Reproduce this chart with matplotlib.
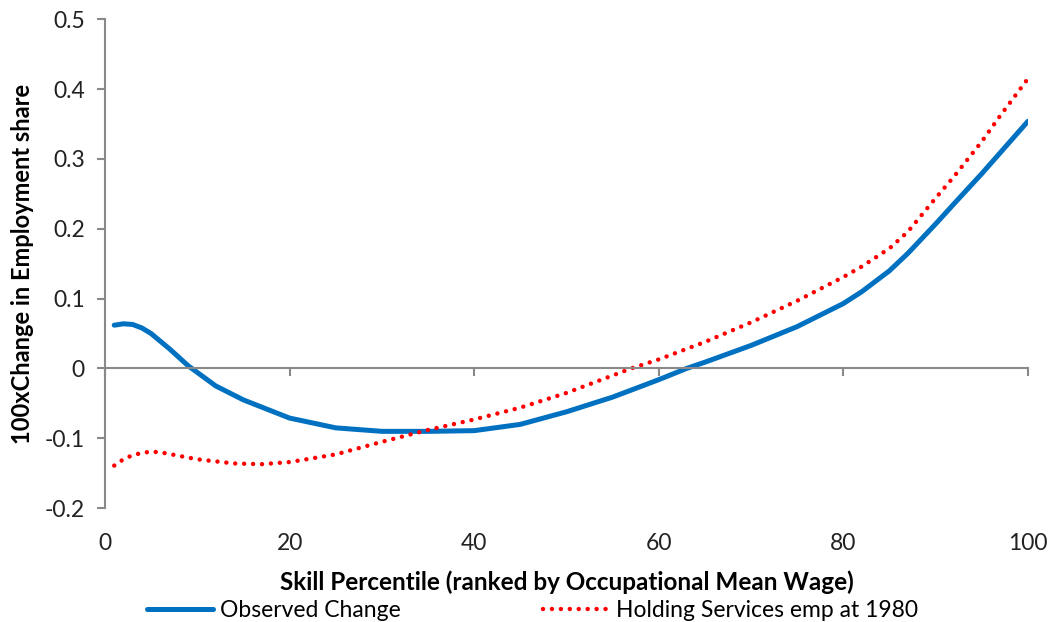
import numpy as np
import matplotlib
matplotlib.use("Agg")
import matplotlib.pyplot as plt

plt.rcParams['font.family'] = ['Lato', 'DejaVu Sans']

# observed change in employment share by skill percentile
obs_x = [1, 2, 3, 4, 5, 7, 9, 12, 15, 20, 25, 30, 35, 40, 45, 50, 55, 60,
         63, 65, 70, 75, 80, 82, 85, 87, 90, 92, 95, 97, 100]
obs_y = [0.062, 0.064, 0.063, 0.058, 0.050, 0.028, 0.004, -0.025, -0.045,
         -0.071, -0.085, -0.090, -0.090, -0.089, -0.080, -0.062, -0.041,
         -0.016, 0.0, 0.009, 0.033, 0.060, 0.093, 0.110, 0.140, 0.165,
         0.207, 0.236, 0.279, 0.309, 0.354]

# counterfactual: holding services employment at 1980
hold_x = [1, 2, 3, 4, 5, 6, 8, 10, 14, 17, 20, 25, 30, 35, 40, 45, 50, 57,
          60, 65, 70, 75, 80, 82, 85, 87, 90, 92, 95, 97, 100]
hold_y = [-0.139, -0.130, -0.124, -0.121, -0.119, -0.120, -0.125, -0.130,
          -0.136, -0.137, -0.134, -0.123, -0.105, -0.088, -0.073, -0.056,
          -0.035, 0.0, 0.013, 0.038, 0.066, 0.097, 0.131, 0.146, 0.172,
          0.196, 0.244, 0.275, 0.325, 0.362, 0.415]

xticks = [0, 20, 40, 60, 80, 100]
yticks = [0.5, 0.4, 0.3, 0.2, 0.1, 0, -0.1, -0.2]
ytick_labels = ['0.5', '0.4', '0.3', '0.2', '0.1', '0', '-0.1', '-0.2']

axis_grey = '#898989'

fig = plt.figure(figsize=(10.5, 6.22), dpi=100)
ax = fig.add_axes([0.1, 0.183, 0.879, 0.786])

ax.plot(obs_x, obs_y, color='#0070C0', lw=3.6, solid_capstyle='round',
        solid_joinstyle='round', label='Observed Change')
ax.plot(hold_x, hold_y, color='#FF0000', lw=3.2, linestyle=(0, (0.01, 2.0)),
        dash_capstyle='round', label='Holding Services emp at 1980')

ax.set_xlim(0, 100)
ax.set_ylim(-0.2, 0.5)

# spines: y axis at left, x axis line through zero
for s in ['top', 'right']:
    ax.spines[s].set_visible(False)
ax.spines['bottom'].set_position(('data', 0))
ax.spines['bottom'].set_color(axis_grey)
ax.spines['bottom'].set_linewidth(1.5)
ax.spines['left'].set_color(axis_grey)
ax.spines['left'].set_linewidth(1.5)

ax.set_yticks(yticks)
ax.set_yticklabels(ytick_labels)
ax.tick_params(axis='y', direction='out', length=5.5, width=1.5,
               color=axis_grey, labelsize=16.5, labelcolor='#222222', pad=9)
ax.set_xticks(xticks)
ax.tick_params(axis='x', direction='out', length=5.5, width=1.5,
               color=axis_grey, labelbottom=False)

# tick labels sit below the plot area
secax = ax.secondary_xaxis('bottom')
secax.spines['bottom'].set_visible(False)
secax.set_xticks(xticks)
secax.tick_params(length=0, pad=18, labelsize=16.5, labelcolor='#222222')
secax.set_xlabel('Skill Percentile (ranked by Occupational Mean Wage)',
                 fontsize=17.5, fontweight='bold', labelpad=11.5)

ax.set_ylabel('100xChange in Employment share', fontsize=17,
              fontweight='bold', labelpad=8)

fig.legend(loc='lower center', bbox_to_anchor=(0.507, -0.031), ncol=2,
           frameon=False, fontsize=16.5, handlelength=2.9, columnspacing=6.2,
           handletextpad=0.3)

fig.savefig('out.png', dpi=100)
